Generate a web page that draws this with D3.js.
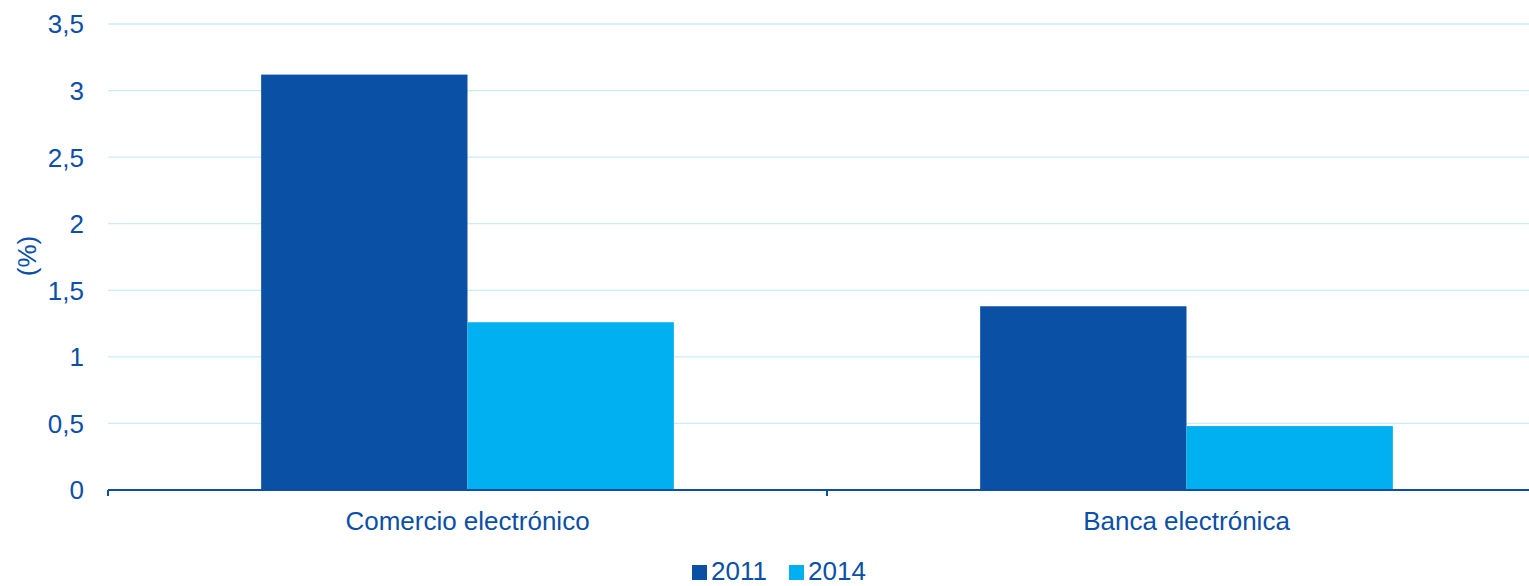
<!DOCTYPE html>
<html><head><meta charset="utf-8">
<script src="https://cdn.jsdelivr.net/npm/d3@7"></script>
<style>body{margin:0;background:#fff}svg{display:block;font-family:"Liberation Sans",Arial,sans-serif}</style>
</head><body><svg id="c" width="1529" height="586"></svg>
<script>
const categories = ["Comercio electrónico", "Banca electrónica"];
const seriesNames = ["2011", "2014"];
const values2011 = [3.12, 1.38];
const values2014 = [1.26, 0.48];
const yTicks = [0, 0.5, 1, 1.5, 2, 2.5, 3, 3.5];
const colors = ["#0a50a5", "#00b0f0"];
const textColor = "#0b4fa8";

(function () {
const svg = d3.select("#c");
const pL = 108, pR = 1546, pT = 24, pB = 490;
const y = d3.scaleLinear().domain([0, 3.5]).range([pB, pT]);
const x0 = d3.scaleBand().domain(categories).range([pL, pR]).paddingInner(0.426).paddingOuter(0.213);
const x1 = d3.scaleBand().domain(seriesNames).range([0, x0.bandwidth()]);
const data = [values2011, values2014];

svg.append("g").selectAll("line").data(yTicks.filter(d => d > 0)).join("line")
  .attr("x1", pL).attr("x2", 1529).attr("y1", d => y(d)).attr("y2", d => y(d))
  .attr("stroke", "#c9ecf9").attr("stroke-width", 1.3);

const fmt = d => String(d).replace(".", ",");
svg.append("g").selectAll("text").data(yTicks).join("text")
  .attr("x", 84).attr("y", d => y(d)).attr("dy", "0.36em").attr("text-anchor", "end")
  .attr("font-size", 26).attr("fill", textColor).text(fmt);

categories.forEach((c, ci) => {
  seriesNames.forEach((s, si) => {
    svg.append("rect").attr("x", x0(c) + x1(s)).attr("width", x1.bandwidth())
      .attr("y", y(data[si][ci])).attr("height", y(0) - y(data[si][ci]))
      .attr("fill", colors[si]);
  });
});

const xAxis = svg.append("g");
xAxis.append("line").attr("x1", pL).attr("x2", 1529).attr("y1", y(0)).attr("y2", y(0))
  .attr("stroke", "#0b4fa8").attr("stroke-width", 2);
[pL, pL + x0.step(), pL + 2 * x0.step()].forEach(t => {
  xAxis.append("line").attr("x1", t).attr("x2", t).attr("y1", y(0)).attr("y2", y(0) + 6)
    .attr("stroke", "#0b4fa8").attr("stroke-width", 2);
});
svg.append("g").selectAll("text").data(categories).join("text")
  .attr("x", d => x0(d) + x0.bandwidth() / 2).attr("y", 530).attr("text-anchor", "middle")
  .attr("font-size", 26).attr("fill", textColor).text(d => d);

svg.append("text").attr("transform", "translate(36,256) rotate(-90)").attr("text-anchor", "middle")
  .attr("font-size", 26).attr("fill", textColor).text("(%)");

const legend = svg.append("g");
const lx = [692, 789];
seriesNames.forEach((s, i) => {
  legend.append("rect").attr("x", lx[i]).attr("y", 565).attr("width", 15).attr("height", 15).attr("fill", colors[i]);
  legend.append("text").attr("x", lx[i] + 19).attr("y", 580).attr("font-size", 26).attr("fill", textColor).text(s);
});
})();
</script></body></html>
